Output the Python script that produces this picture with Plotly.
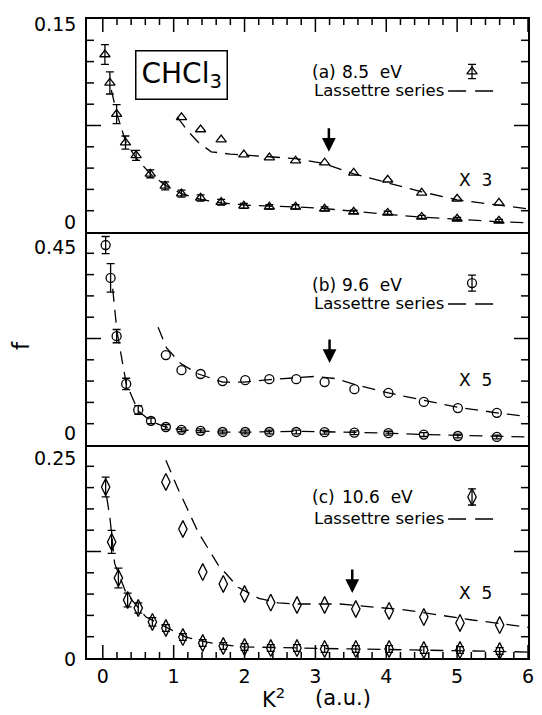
import plotly.graph_objects as go

# ---------------- data ----------------
# Panel (a) 8.5 eV
a_k2 = [0.03, 0.10, 0.195, 0.32, 0.47, 0.67, 0.88, 1.11, 1.38, 1.67, 1.99, 2.35, 2.72, 3.13, 3.54, 4.02, 4.50, 5.00, 5.59]
a_f = [0.125, 0.105, 0.083, 0.063, 0.054, 0.041, 0.0325, 0.027, 0.024, 0.021, 0.0184, 0.0177, 0.0177, 0.0163, 0.0142, 0.0134, 0.0106, 0.0092, 0.0078]
a_err = [0.007, 0.0078, 0.0067, 0.0046, 0.0035, 0.0028, 0.0028, 0.0025, 0.0022, 0.002, 0.0018, 0.0015, 0.0015, 0.0014, 0.0012, 0.0012, 0.0011, 0.0011, 0.0011]
a_x3_k2 = [1.11, 1.38, 1.67, 1.99, 2.35, 2.72, 3.13, 3.54, 4.02, 4.50, 5.00, 5.59]
a_x3_f = [0.0807, 0.0722, 0.0651, 0.0545, 0.0524, 0.0502, 0.0488, 0.0417, 0.0368, 0.0276, 0.0234, 0.0205]
a_fit_k2 = [0.12, 0.2, 0.32, 0.47, 0.67, 0.88, 1.11, 1.38, 1.67, 2.0, 2.35, 2.72, 3.13, 3.54, 4.0, 4.5, 5.0, 5.59, 6.0]
a_fit_f = [0.100, 0.083, 0.064, 0.052, 0.041, 0.033, 0.027, 0.023, 0.0205, 0.019, 0.0182, 0.0177, 0.0165, 0.0145, 0.0125, 0.0105, 0.0088, 0.0072, 0.0064]
a_fit3_k2 = [1.05, 1.2, 1.35, 1.53, 1.8, 2.0, 2.35, 2.72, 3.13, 3.54, 4.0, 4.5, 5.0, 5.59, 6.0]
a_fit3_f = [0.081, 0.071, 0.063, 0.0565, 0.0548, 0.054, 0.053, 0.0517, 0.0481, 0.041, 0.0347, 0.0283, 0.0226, 0.0191, 0.0163]

# Panel (b) 9.6 eV
b_k2 = [0.04, 0.11, 0.195, 0.33, 0.50, 0.68, 0.89, 1.11, 1.38, 1.69, 2.01, 2.35, 2.73, 3.13, 3.55, 4.03, 4.53, 5.01, 5.56]
b_f = [0.4225, 0.353, 0.230, 0.129, 0.074, 0.051, 0.038, 0.032, 0.030, 0.0275, 0.0275, 0.0275, 0.0275, 0.027, 0.026, 0.025, 0.022, 0.019, 0.017]
b_err = [0.018, 0.03, 0.014, 0.012, 0.009, 0.006, 0.005, 0.004, 0.004, 0.004, 0.004, 0.004, 0.004, 0.004, 0.004, 0.004, 0.004, 0.004, 0.004]
b_x5_k2 = [0.89, 1.11, 1.38, 1.69, 2.01, 2.35, 2.73, 3.13, 3.55, 4.03, 4.53, 5.01, 5.56]
b_x5_f = [0.190, 0.158, 0.150, 0.135, 0.137, 0.139, 0.139, 0.133, 0.118, 0.110, 0.091, 0.078, 0.068]
b_fit_k2 = [0.14, 0.2, 0.33, 0.5, 0.68, 0.89, 1.11, 1.38, 1.69, 2.0, 2.35, 2.73, 3.13, 3.55, 4.03, 4.53, 5.0, 5.56, 6.0]
b_fit_f = [0.330, 0.240, 0.130, 0.072, 0.050, 0.038, 0.032, 0.029, 0.027, 0.027, 0.028, 0.029, 0.028, 0.027, 0.025, 0.022, 0.020, 0.018, 0.017]
b_fit5_k2 = [0.78, 0.9, 1.1, 1.35, 1.69, 2.0, 2.35, 2.73, 3.0, 3.3, 3.55, 4.03, 4.53, 5.0, 5.56, 6.0]
b_fit5_f = [0.249, 0.205, 0.172, 0.150, 0.133, 0.133, 0.138, 0.143, 0.145, 0.140, 0.128, 0.110, 0.095, 0.080, 0.068, 0.060]

# Panel (c) 10.6 eV
c_k2 = [0.04, 0.125, 0.22, 0.35, 0.50, 0.70, 0.89, 1.13, 1.41, 1.70, 2.0, 2.37, 2.74, 3.13, 3.57, 4.04, 4.53, 5.04, 5.6]
c_f = [0.2007, 0.1362, 0.0939, 0.0681, 0.0587, 0.0423, 0.0352, 0.0246, 0.0176, 0.0141, 0.0129, 0.0117, 0.0117, 0.0106, 0.0106, 0.0106, 0.0094, 0.0094, 0.0082]
c_err = [0.0117, 0.0135, 0.0117, 0.008, 0.006, 0.005, 0.004, 0.004, 0.004, 0.004, 0.004, 0.004, 0.004, 0.004, 0.004, 0.004, 0.004, 0.004, 0.004]
c_x5_k2 = [0.89, 1.13, 1.41, 1.70, 2.0, 2.37, 2.74, 3.13, 3.57, 4.04, 4.53, 5.04, 5.6]
c_x5_f = [0.2066, 0.1514, 0.1009, 0.0869, 0.0751, 0.065, 0.0622, 0.0622, 0.0575, 0.0552, 0.0481, 0.0411, 0.0387]
c_fit_k2 = [0.055, 0.1, 0.167, 0.33, 0.61, 0.89, 1.17, 1.45, 1.73, 2.0, 2.5, 3.0, 3.5, 4.0, 4.5, 5.0, 5.5, 6.0]
c_fit_f = [0.189, 0.165, 0.111, 0.076, 0.048, 0.036, 0.0246, 0.0188, 0.0153, 0.013, 0.012, 0.011, 0.0106, 0.010, 0.009, 0.0085, 0.0078, 0.007]
c_fit5_k2 = [0.89, 1.07, 1.35, 1.63, 1.91, 2.2, 2.48, 2.75, 3.35, 3.82, 4.28, 4.74, 5.21, 5.77, 6.0]
c_fit5_f = [0.232, 0.197, 0.147, 0.109, 0.083, 0.070, 0.0646, 0.0634, 0.0634, 0.0599, 0.0563, 0.0505, 0.0446, 0.0387, 0.036]

x_tick_labels = ["0", "1", "2", "3", "4", "5", "6"]
panel_ranges = {"a": 0.15, "b": 0.45, "c": 0.25}
energies = {"a": "8.5  eV", "b": "9.6  eV", "c": "10.6  eV"}
factors = {"a": "X  3", "b": "X  5", "c": "X  5"}
arrow_pos = {"a": (3.19, 0.0566), "b": (3.20, 0.173), "c": (3.52, 0.0763)}
# legend key marker position (K², f, err)
key_pos = {"a": (5.21, 0.113, 0.005), "b": (5.21, 0.342, 0.017), "c": (5.21, 0.189, 0.0094)}

# ---------------- layout geometry ----------------
W, H = 542, 715
ML, MR, MT, MB = 87, 8, 19, 57
PW, PH = W - ML - MR, H - MT - MB
PANEL_PX = PH / 3.0


def px(x):
    return (x - ML) / PW


def py(y):
    return (H - MB - y) / PH


FONT = "DejaVu Sans"
fig = go.Figure()

panels = [
    ("a", "x3", "y3", a_k2, a_f, a_err, a_x3_k2, a_x3_f, a_fit_k2, a_fit_f, a_fit3_k2, a_fit3_f, "triangle-up-open", 9),
    ("b", "x2", "y2", b_k2, b_f, b_err, b_x5_k2, b_x5_f, b_fit_k2, b_fit_f, b_fit5_k2, b_fit5_f, "circle-open", 9),
    ("c", "x", "y", c_k2, c_f, c_err, c_x5_k2, c_x5_f, c_fit_k2, c_fit_f, c_fit5_k2, c_fit5_f, "diamond-tall-open", 12),
]

dash = "13px,8px"
for (p, xa, ya, k2, f, err, k2s, fs, fk, ff, fk2, ff2, sym, msz) in panels:
    fig.add_trace(go.Scatter(x=fk, y=ff, mode="lines", xaxis=xa, yaxis=ya,
                             line=dict(color="black", width=1.3, dash=dash), showlegend=False))
    fig.add_trace(go.Scatter(x=fk2, y=ff2, mode="lines", xaxis=xa, yaxis=ya,
                             line=dict(color="black", width=1.3, dash=dash), showlegend=False))
    fig.add_trace(go.Scatter(x=k2, y=f, mode="markers", xaxis=xa, yaxis=ya,
                             marker=dict(symbol=sym, size=msz, color="black", line=dict(width=1.3)),
                             error_y=dict(type="data", array=err, color="black", thickness=1.3, width=4),
                             showlegend=False))
    fig.add_trace(go.Scatter(x=k2s, y=fs, mode="markers", xaxis=xa, yaxis=ya,
                             marker=dict(symbol=sym, size=msz, color="black", line=dict(width=1.3)),
                             showlegend=False))
    kx, ky, ke = key_pos[p]
    fig.add_trace(go.Scatter(x=[kx], y=[ky], mode="markers", xaxis=xa, yaxis=ya,
                             marker=dict(symbol=sym, size=msz, color="black", line=dict(width=1.3)),
                             error_y=dict(type="data", array=[ke], color="black", thickness=1.3, width=4),
                             showlegend=False))

# ---------------- x tick marks (inside, bottom of (c) and top of (a)) ----------------
rc, ra = panel_ranges["c"], panel_ranges["a"]
tick_x = [i * 0.2 for i in range(31)]
tick_px = [13 if i % 5 == 0 else 6 for i in range(31)]
fig.add_trace(go.Scatter(
    x=tick_x, y=[0] * 31, xaxis="x", yaxis="y", mode="markers",
    marker=dict(size=1, color="rgba(0,0,0,0)"), hoverinfo="skip", showlegend=False,
    error_y=dict(type="data", symmetric=False, array=[rc * l / PANEL_PX for l in tick_px],
                 arrayminus=[0] * 31, width=0, thickness=1.5, color="black")))
fig.add_trace(go.Scatter(
    x=tick_x, y=[ra] * 31, xaxis="x3", yaxis="y3", mode="markers",
    marker=dict(size=1, color="rgba(0,0,0,0)"), hoverinfo="skip", showlegend=False,
    error_y=dict(type="data", symmetric=False, array=[0] * 31,
                 arrayminus=[ra * l / PANEL_PX for l in tick_px], width=0, thickness=1.5, color="black")))

# ---------------- axes ----------------
xr = [-0.223, 6.0]
doms = {"a": [2 / 3, 1], "b": [1 / 3, 2 / 3], "c": [0, 1 / 3]}
lay = {}
for p, key, anc in (("a", "yaxis3", "x3"), ("b", "yaxis2", "x2"), ("c", "yaxis", "x")):
    r = panel_ranges[p]
    lay[key] = dict(domain=doms[p], range=[0, r], anchor=anc, showline=True, linewidth=2,
                    linecolor="black", mirror=True, ticks="", showticklabels=False,
                    showgrid=False, zeroline=False)
lay["xaxis"] = dict(domain=[0, 1], range=xr, anchor="y", showline=True, linewidth=2, linecolor="black",
                    mirror=False, ticks="", tickmode="array", tickvals=list(range(7)),
                    ticktext=x_tick_labels, ticklabelstandoff=0, showgrid=False, zeroline=False,
                    tickfont=dict(family=FONT, size=19, color="black"))
lay["xaxis2"] = dict(domain=[0, 1], range=xr, anchor="y2", showline=True, linewidth=2,
                     linecolor="black", mirror=False, ticks="", showticklabels=False, showgrid=False,
                     zeroline=False)
lay["xaxis3"] = dict(domain=[0, 1], range=xr, anchor="y3", side="top", showline=True, linewidth=2,
                     linecolor="black", mirror=True, ticks="", showticklabels=False, showgrid=False,
                     zeroline=False)
fig.update_layout(**lay)

# ---------------- y tick marks (inside, both sides) ----------------
shapes = []
tick_line = dict(color="black", width=1.5)
for p, xa, ya in (("a", "x3", "y3"), ("b", "x2", "y2"), ("c", "x", "y")):
    r = panel_ranges[p]
    for i in range(1, 10):
        yv = r * i / 10
        ln = 14 if i == 5 else 7
        shapes.append(dict(type="line", xref=xa + " domain", yref=ya, xsizemode="pixel", xanchor=0,
                           x0=0, x1=ln, y0=yv, y1=yv, line=tick_line))
        shapes.append(dict(type="line", xref=xa + " domain", yref=ya, xsizemode="pixel", xanchor=1,
                           x0=0, x1=-ln, y0=yv, y1=yv, line=tick_line))

# ---------------- annotations ----------------
ann = []
tf = dict(family=FONT, size=19, color="black")
for lbl, ypix in (("0.15", 24), ("0", 222), ("0.45", 247), ("0", 433), ("0.25", 458), ("0", 659)):
    ann.append(dict(xref="paper", yref="paper", x=px(78), y=py(ypix), text=lbl, showarrow=False,
                    xanchor="right", yanchor="middle", font=tf))

ann.append(dict(xref="paper", yref="paper", x=px(20), y=py(345), text="f", showarrow=False,
                xanchor="center", yanchor="middle", textangle=-90,
                font=dict(family=FONT, size=23, color="black")))
ann.append(dict(xref="paper", yref="paper", x=px(290), y=py(698), text="K<sup>2</sup>", showarrow=False,
                xanchor="right", yanchor="middle", font=dict(family=FONT, size=21, color="black")))
ann.append(dict(xref="paper", yref="paper", x=px(316), y=py(698), text="(a.u.)", showarrow=False,
                xanchor="left", yanchor="middle", font=dict(family=FONT, size=21, color="black")))
ann.append(dict(xref="paper", yref="paper", x=px(183), y=py(75), text="CHCl<sub>3</sub>", showarrow=False,
                xanchor="center", yanchor="middle",
                font=dict(family=FONT, size=28, color="black"), bordercolor="black", borderwidth=1.5,
                borderpad=5))

lf = dict(family=FONT, size=17, color="black")
rows = {"a": (72, 90, 180), "b": (285, 303, 380), "c": (497, 518, 593)}
for p in ("a", "b", "c"):
    y1, y2, y3 = rows[p]
    ann.append(dict(xref="paper", yref="paper", x=px(313), y=py(y1), text="(" + p + ")", showarrow=False,
                    xanchor="left", yanchor="middle", font=lf))
    ann.append(dict(xref="paper", yref="paper", x=px(343), y=py(y1), text=energies[p], showarrow=False,
                    xanchor="left", yanchor="middle", font=lf))
    ann.append(dict(xref="paper", yref="paper", x=px(315), y=py(y2), text="Lassettre series", showarrow=False,
                    xanchor="left", yanchor="middle", font=dict(family=FONT, size=16.5, color="black")))
    ann.append(dict(xref="paper", yref="paper", x=px(462), y=py(y3), text=factors[p], showarrow=False,
                    xanchor="left", yanchor="middle", font=lf))
    shapes.append(dict(type="line", xref="paper", yref="paper", x0=px(453), x1=px(499), y0=py(y2 + 1),
                       y1=py(y2 + 1), line=dict(color="black", width=1.5, dash="18px,9px")))

for p, xa, ya in (("a", "x3", "y3"), ("b", "x2", "y2"), ("c", "x", "y")):
    ax_, ay_ = arrow_pos[p]
    ann.append(dict(xref=xa, yref=ya, x=ax_, y=ay_, text="", showarrow=True, ax=0, ay=-25,
                    arrowhead=2, arrowsize=1.1, arrowwidth=2.5, arrowcolor="black"))

fig.update_layout(
    width=W, height=H, margin=dict(l=ML, r=MR, t=MT, b=MB),
    paper_bgcolor="white", plot_bgcolor="white",
    annotations=ann, shapes=shapes, showlegend=False,
    font=dict(family=FONT, color="black"),
)

fig.write_html("out.html")
